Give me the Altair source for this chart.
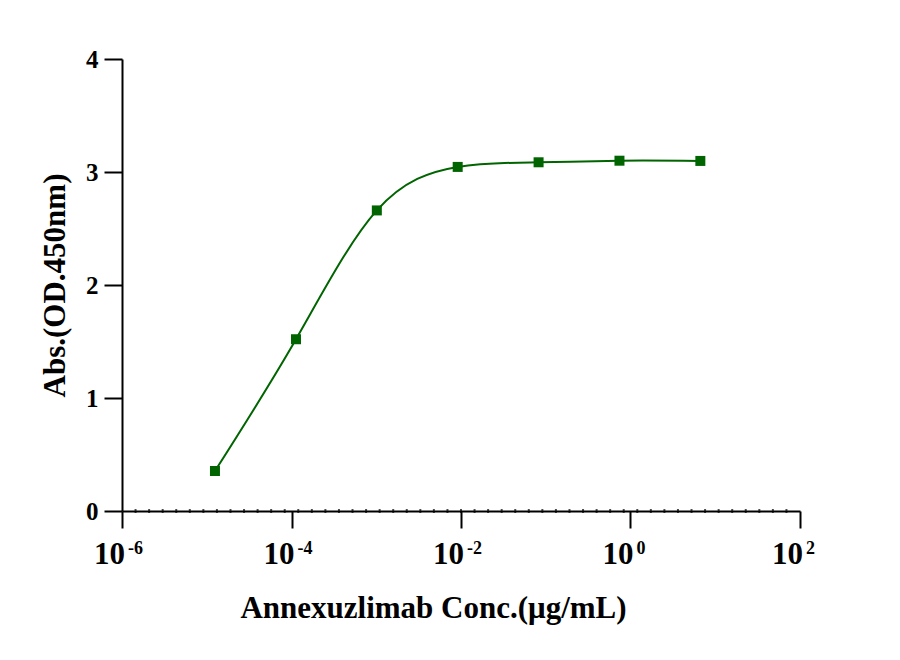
import altair as alt
import pandas as pd

# Data
conc = [1.25e-5, 1.13e-4, 1.016e-3, 9.14e-3, 0.0823, 0.741, 6.67]
od = [0.354, 1.52, 2.66, 3.045, 3.086, 3.10, 3.098]

decades = [1e-6, 1e-4, 1e-2, 1e0, 1e2]
exponents = ["-6", "-4", "-2", "0", "2"]
y_ticks = [0, 1, 2, 3, 4]
minor_ticks = [10 ** (-6 + 0.16 * k) for k in range(1, 50)]

FONT = "Liberation Serif"
GREEN = "#006400"

df = pd.DataFrame({"conc": conc, "od": od})
lab = pd.DataFrame({"x": decades, "base": ["10"] * len(decades), "exp": exponents})
minor = pd.DataFrame({"x": minor_ticks})

xscale = alt.Scale(type="log", domain=[1e-6, 1e2], nice=False)
yscale = alt.Scale(domain=[0, 4], nice=False)

x_enc = alt.X(
    "conc:Q", scale=xscale,
    axis=alt.Axis(values=decades, labels=False, tickSize=17, tickWidth=2,
                  domainWidth=2, domainColor="black", tickColor="black",
                  grid=False, title="Annexuzlimab Conc.(μg/mL)",
                  titleFont=FONT, titleFontSize=31, titleFontWeight="bold",
                  titleColor="black", titleX=311, titleAlign="center",
                  titleY=82, titleBaseline="top"),
)
y_enc = alt.Y(
    "od:Q", scale=yscale,
    axis=alt.Axis(values=y_ticks, format="d", tickSize=18, tickWidth=2, domainWidth=2,
                  domainColor="black", tickColor="black", grid=False,
                  labelFont=FONT, labelFontSize=25, labelFontWeight="bold",
                  labelColor="black", labelPadding=6,
                  title="Abs.(OD.450nm)", titleFont=FONT, titleFontSize=31,
                  titleFontWeight="bold", titleColor="black", titlePadding=14),
)

line = alt.Chart(df).mark_line(color=GREEN, strokeWidth=2, interpolate="natural").encode(
    x=x_enc, y=y_enc
)
pts = alt.Chart(df).mark_square(color=GREEN, size=100, opacity=1).encode(
    x=alt.X("conc:Q", scale=xscale), y=alt.Y("od:Q", scale=yscale)
)
minor_layer = alt.Chart(minor).mark_tick(color="black", size=4, thickness=2, orient="vertical").encode(
    x=alt.X("x:Q", scale=xscale), y=alt.datum(0)
)
base_txt = alt.Chart(lab).mark_text(
    font=FONT, fontSize=31, fontWeight="bold", align="right", baseline="alphabetic", dx=3, color="black"
).encode(x=alt.X("x:Q", scale=xscale), y=alt.value(505), text="base:N")
exp_txt = alt.Chart(lab).mark_text(
    font=FONT, fontSize=18, fontWeight="bold", align="left", baseline="alphabetic", dx=6, color="black"
).encode(x=alt.X("x:Q", scale=xscale), y=alt.value(495), text="exp:N")

chart = alt.layer(line, minor_layer, pts, base_txt, exp_txt).properties(
    width=678, height=452,
    autosize=alt.AutoSizeParams(type="none"),
    padding={"left": 114, "top": 51, "right": 90, "bottom": 140},
).configure(background="white").configure_view(strokeWidth=0, stroke=None)

chart.save("out.html", embed_options={"renderer": "svg", "actions": False})
